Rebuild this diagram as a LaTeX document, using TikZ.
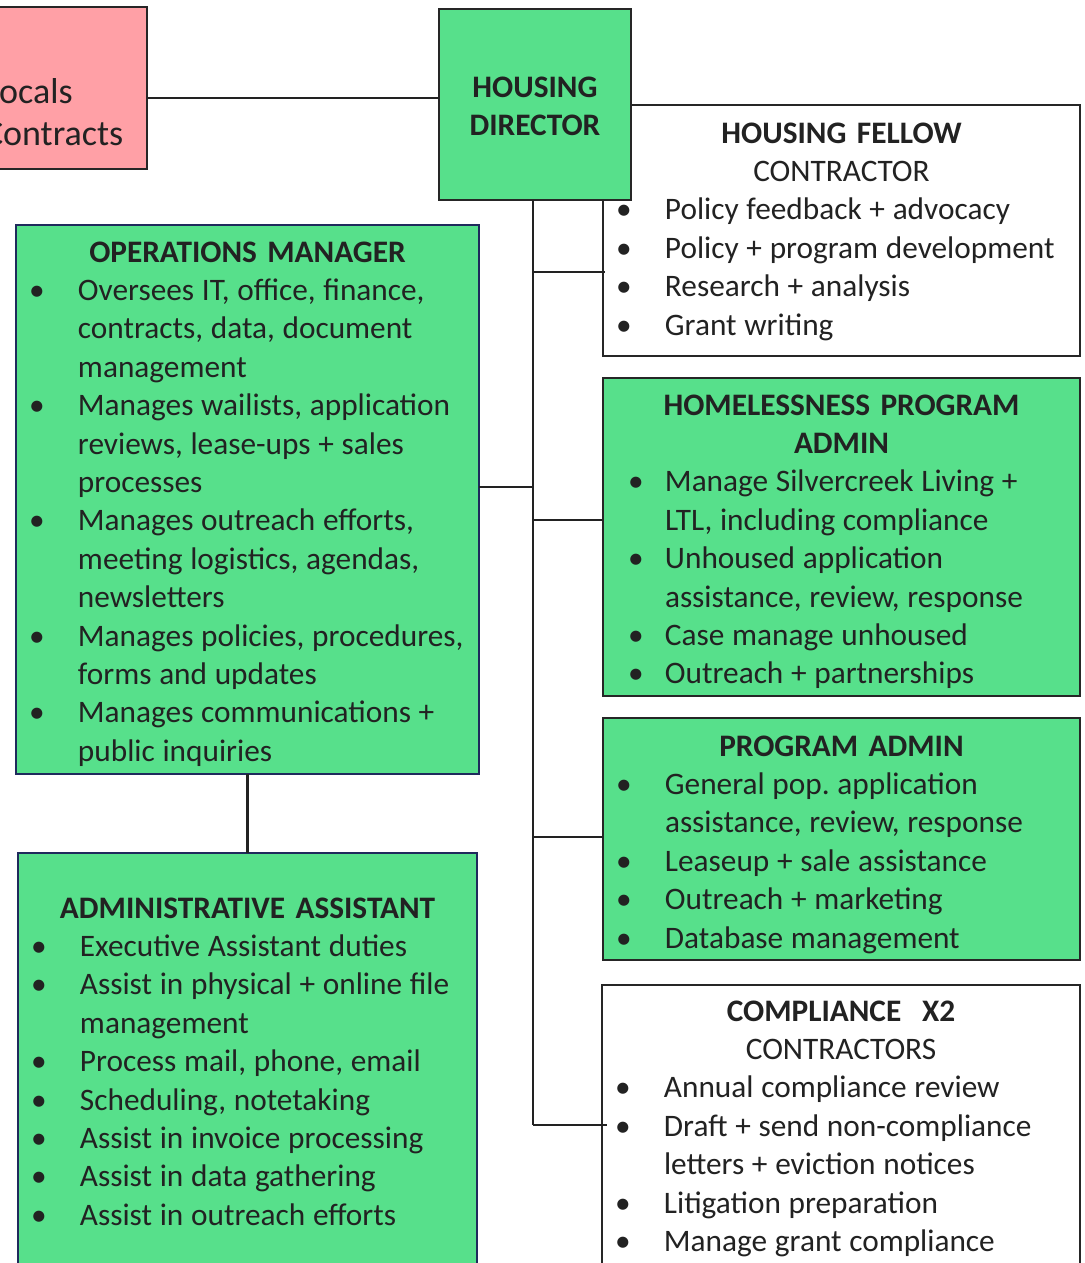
\documentclass[tikz,border=0pt]{standalone}
\usepackage{fontspec}
\setmainfont{Carlito}
\usetikzlibrary{calc}

\definecolor{boxgreen}{HTML}{57E08B}
\definecolor{boxpink}{HTML}{FFA0A6}
\definecolor{ink}{HTML}{222222}
\definecolor{navyline}{HTML}{1F2A5C}
\definecolor{darkline}{HTML}{262626}

% distance from the text column back to the bullet centre
\newlength\bulx
\setlength\bulx{41pt}
% centred heading line (bold) and centred sub-heading line
\newcommand\hdr[1]{{\centering\bfseries #1\par}}
\newcommand\subhdr[1]{{\centering #1\par}}
% start of the bulleted list: text column at 62pt from the box edge
\newcommand\listbody{\leftskip=62pt \rightskip=0pt plus 1fil
  \frenchspacing\spaceskip=7.7pt\relax}
% bulleted item; the text column starts at \leftskip
\newcommand\itm[1]{\noindent\llap{\makebox[0pt]{•}\hspace{\bulx}}#1\par}
\newcommand\firstline{\rule{0pt}{30pt}}

\tikzset{
  box/.style={rectangle, anchor=north west, inner sep=0pt, outer sep=0pt,
    line width=2.6pt},
  greenbox/.style={box, fill=boxgreen, draw=darkline},
  navybox/.style={box, fill=boxgreen, draw=navyline},
  whitebox/.style={box, fill=white, draw=darkline},
  pinkbox/.style={box, fill=boxpink, draw=darkline},
  content/.style={anchor=north west, inner sep=0pt, outer sep=0pt,
    text width=#1, text=ink, font=\fontsize{31.3}{38.4}\selectfont},
  conn/.style={draw=ink, line width=2.4pt},
}

\begin{document}
\begin{tikzpicture}[x=1pt,y=-1pt]
\useasboundingbox (0,0) rectangle (1084,1263);
\clip (0,0) rectangle (1084,1263);

% ---- boxes ----
\node[pinkbox, minimum width=347pt, minimum height=162pt] (pink) at (-200,7) {};
\node[content=300pt, font=\fontsize{36}{42}\selectfont] (pink-t) at (-16,73)
  {\firstline Locals\newline Contracts};

\node[whitebox, minimum width=477pt, minimum height=251pt] (fellow) at (603,105) {};
\node[content=477pt] (fellow-t) at (603,113) {%
  \hdr{\firstline HOUSING FELLOW}
  \subhdr{CONTRACTOR}
  \listbody
  \itm{Policy feedback + advocacy}
  \itm{Policy + program development}
  \itm{Research + analysis}
  \itm{Grant writing}};

\node[greenbox, minimum width=192pt, minimum height=191pt] (dir) at (439,9) {};
\node[content=192pt] (dir-t) at (439,67) {%
  \hdr{\firstline HOUSING}
  \hdr{DIRECTOR}};

\node[navybox, minimum width=463pt, minimum height=549pt] (ops) at (16,225) {};
\node[content=463pt] (ops-t) at (16,232) {%
  \hdr{\firstline OPERATIONS MANAGER}
  \listbody
  \itm{Oversees IT, office, finance,\newline contracts, data, document\newline management}
  \itm{Manages wailists, application\newline reviews, lease-ups + sales\newline processes}
  \itm{Manages outreach efforts,\newline meeting logistics, agendas,\newline newsletters}
  \itm{Manages policies, procedures,\newline forms and updates}
  \itm{Manages communications +\newline public inquiries}};

\node[navybox, minimum width=459pt, minimum height=440pt] (asst) at (18,853) {};
\node[content=459pt] (asst-t) at (18,888) {%
  \hdr{\firstline ADMINISTRATIVE ASSISTANT}
  \listbody
  \itm{Executive Assistant duties}
  \itm{Assist in physical + online file\newline management}
  \itm{Process mail, phone, email}
  \itm{Scheduling, notetaking}
  \itm{Assist in invoice processing}
  \itm{Assist in data gathering}
  \itm{Assist in outreach efforts}};

\node[greenbox, minimum width=477pt, minimum height=318pt] (hpa) at (603,378) {};
\node[content=477pt] (hpa-t) at (603,385) {%
  \hdr{\firstline HOMELESSNESS PROGRAM}
  \hdr{ADMIN}
  \listbody \setlength\bulx{29pt}
  \itm{Manage Silvercreek Living +\newline LTL, including compliance}
  \itm{Unhoused application\newline assistance, review, response}
  \itm{Case manage unhoused}
  \itm{Outreach + partnerships}};

\node[greenbox, minimum width=477pt, minimum height=242pt] (pa) at (603,718) {};
\node[content=477pt] (pa-t) at (603,726) {%
  \hdr{\firstline PROGRAM ADMIN}
  \listbody
  \itm{General pop. application\newline assistance, review, response}
  \itm{Leaseup + sale assistance}
  \itm{Outreach + marketing}
  \itm{Database management}};

\node[whitebox, minimum width=478pt, minimum height=330pt] (comp) at (602,985) {};
\node[content=478pt] (comp-t) at (602,991) {%
  \hdr{\firstline COMPLIANCE\ \ X2}
  \subhdr{CONTRACTORS}
  \listbody
  \itm{Annual compliance review}
  \itm{Draft + send non-compliance\newline letters + eviction notices}
  \itm{Litigation preparation}
  \itm{Manage grant compliance}};

% ---- connectors ----
\coordinate (hl) at (0,98);
\coordinate (t1) at (533,272);
\coordinate (t2) at (533,487);
\coordinate (t3) at (533,520);
\coordinate (t4) at (533,837);
\coordinate (t5) at (533,1125);

\draw[conn] (pink.east |- hl) -- (dir.west |- hl);
\draw[conn] (dir.south -| t1) -- (t5);
\draw[conn] (t1) -- ([xshift=2pt]fellow.west |- t1);
\draw[conn] (t2) -- (ops.east |- t2);
\draw[conn] (t3) -- (hpa.west |- t3);
\draw[conn] (t4) -- (pa.west |- t4);
\draw[conn] (t5) -- ([xshift=5pt]comp.west |- t5);
\draw[conn] (ops.south) -- (asst.north);
\end{tikzpicture}
\end{document}
